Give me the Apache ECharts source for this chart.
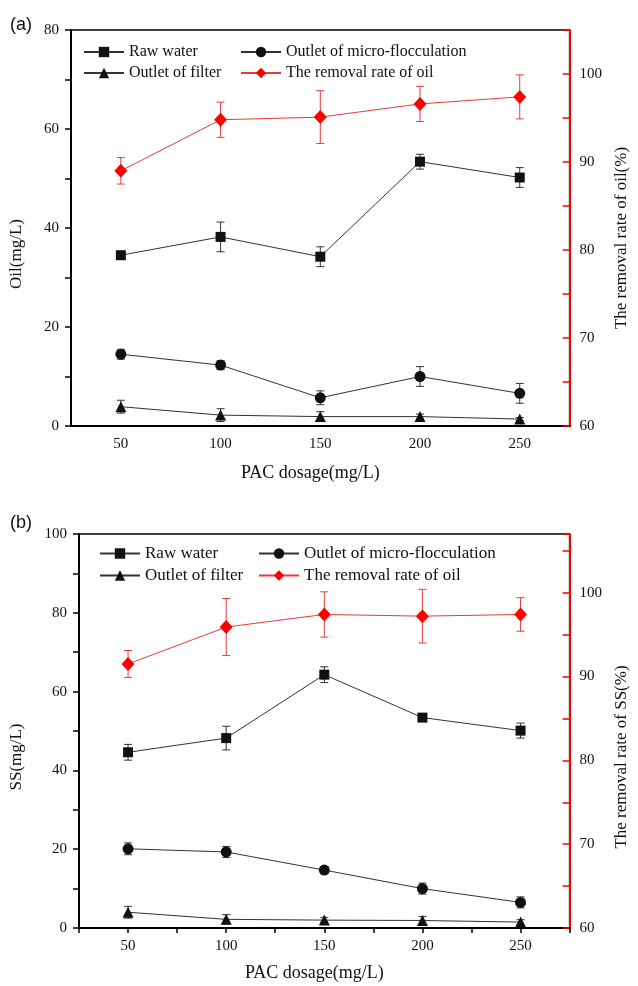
<!DOCTYPE html>
<html>
<head>
<meta charset="utf-8">
<script src="https://cdn.jsdelivr.net/npm/echarts@6/dist/echarts.min.js"></script>
<style>
  html, body { margin: 0; padding: 0; background: #fff; }
  #main { width: 638px; height: 986px; }
</style>
</head>
<body>
<div id="main"></div>
<script>
// PAC dosage (mg/L)
var dosage = [50, 100, 150, 200, 250];
var xTickLabels = [50, 100, 150, 200, 250];

// (a) oil
var oilRaw = [34.5, 38.2, 34.2, 53.4, 50.2];
var oilRawErr = [0.8, 3.0, 2.0, 1.5, 2.0];
var oilMicro = [14.5, 12.3, 5.7, 10.0, 6.6];
var oilMicroErr = [1.0, 0.9, 1.4, 2.0, 2.0];
var oilFilter = [3.9, 2.2, 1.9, 1.9, 1.4];
var oilFilterErr = [1.3, 1.3, 1.0, 0.5, 0.3];
var oilRemoval = [89.0, 94.8, 95.1, 96.6, 97.4];
var oilRemovalErr = [1.5, 2.0, 3.0, 2.0, 2.5];

// (b) SS
var ssRaw = [44.6, 48.2, 64.3, 53.4, 50.1];
var ssRawErr = [2.0, 3.0, 2.0, 1.0, 1.9];
var ssMicro = [20.1, 19.3, 14.7, 10.0, 6.5];
var ssMicroErr = [1.5, 1.4, 0.8, 1.4, 1.4];
var ssFilter = [4.0, 2.2, 2.0, 1.9, 1.5];
var ssFilterErr = [1.5, 1.2, 0.7, 1.0, 0.6];
var ssRemoval = [91.5, 95.9, 97.4, 97.2, 97.4];
var ssRemovalErr = [1.6, 3.4, 2.7, 3.2, 2.0];

var serif = '"Liberation Serif", "DejaVu Serif", serif';
var black = '#111';
var red = '#ff0000';

function pairs(vals) {
  return dosage.map(function (x, i) { return [x, vals[i]]; });
}

function lineSeries(name, vals, xi, yi, symbol, size, isRed) {
  return {
    type: 'line', name: name, xAxisIndex: xi, yAxisIndex: yi,
    data: pairs(vals), symbol: symbol, symbolSize: size, z: 5,
    lineStyle: { color: isRed ? '#e83a3a' : '#333', width: 1 },
    itemStyle: { color: isRed ? red : black, borderWidth: 0 },
    emphasis: { disabled: true }
  };
}

// error bars drawn with the axes' own coordinate system
function errSeries(vals, errs, xi, yi, color) {
  return {
    type: 'custom', xAxisIndex: xi, yAxisIndex: yi, z: 3, silent: true,
    data: dosage.map(function (x, i) { return [x, vals[i] - errs[i], vals[i] + errs[i]]; }),
    encode: { x: 0, y: [1, 2] },
    renderItem: function (params, api) {
      var lo = api.coord([api.value(0), api.value(1)]);
      var hi = api.coord([api.value(0), api.value(2)]);
      var w = 4;
      var st = { stroke: color, lineWidth: 1 };
      return {
        type: 'group',
        children: [
          { type: 'line', shape: { x1: lo[0], y1: lo[1], x2: hi[0], y2: hi[1] }, style: st },
          { type: 'line', shape: { x1: lo[0] - w, y1: lo[1], x2: lo[0] + w, y2: lo[1] }, style: st },
          { type: 'line', shape: { x1: hi[0] - w, y1: hi[1], x2: hi[0] + w, y2: hi[1] }, style: st }
        ]
      };
    }
  };
}

function xAxis(gi, showTicks) {
  return {
    type: 'value', gridIndex: gi, min: 25, max: 275, interval: 25,
    name: 'PAC dosage(mg/L)', nameLocation: 'middle', nameGap: gi === 0 ? 38 : 36,
    nameTextStyle: { fontFamily: serif, fontSize: 18, color: '#111', padding: [0, 20, 0, 0] },
    splitLine: { show: false },
    axisLine: { onZero: false, lineStyle: { color: '#000', width: 2 } },
    axisTick: { show: showTicks, inside: false, length: 5, lineStyle: { color: '#000', width: 1.5 } },
    axisLabel: {
      margin: 11, fontFamily: serif, fontSize: 15, color: '#111',
      formatter: function (v) { return xTickLabels.indexOf(v) >= 0 ? String(v) : ''; }
    }
  };
}

function leftAxis(gi, name, max, gap) {
  return {
    type: 'value', gridIndex: gi, position: 'left', min: 0, max: max, interval: 10,
    name: name, nameLocation: 'middle', nameGap: gap, nameRotate: 90,
    nameTextStyle: { fontFamily: serif, fontSize: 17, color: '#111', padding: [0, 52, 0, 0] },
    splitLine: { show: false },
    axisLine: { show: true, onZero: false, lineStyle: { color: '#000', width: 2 } },
    axisTick: { show: true, inside: false, length: 6, lineStyle: { color: '#000', width: 1.5 } },
    axisLabel: {
      margin: 12, fontFamily: serif, fontSize: 15, color: '#111',
      formatter: function (v) { return v % 20 === 0 ? String(v) : ''; }
    }
  };
}

function rightAxis(gi, name, max, gap, pad) {
  return {
    type: 'value', gridIndex: gi, position: 'right', min: 60, max: max, interval: 5,
    name: name, nameLocation: 'middle', nameGap: gap, nameRotate: 90,
    nameTextStyle: { fontFamily: serif, fontSize: 17, color: '#111', padding: [0, pad, 0, 0] },
    splitLine: { show: false },
    axisLine: { show: true, onZero: false, lineStyle: { color: red, width: 2 } },
    axisTick: { show: true, inside: true, length: 7, lineStyle: { color: red, width: 1.5 } },
    axisLabel: {
      margin: 10, fontFamily: serif, fontSize: 15, color: '#111',
      formatter: function (v) { return v % 10 === 0 ? String(v) : ''; }
    }
  };
}

function legends(left1, left2, top, size) {
  var base = {
    orient: 'vertical', top: top, padding: 0, itemWidth: 40, itemHeight: 13, itemGap: 5,
    textStyle: { fontFamily: serif, fontSize: size, color: '#111' }, selectedMode: false
  };
  return [
    Object.assign({ left: left1, data: ['Raw water', 'Outlet of filter'] }, base),
    Object.assign({ left: left2, data: ['Outlet of micro-flocculation', 'The removal rate of oil'] }, base)
  ];
}

var chart = echarts.init(document.getElementById('main'));

var option = {
  backgroundColor: '#fff',
  animation: false,
  grid: [
    { left: 69, top: 30, width: 516, height: 396, show: true, borderColor: '#000', borderWidth: 1.5, backgroundColor: 'transparent' },
    { left: 76, top: 534, width: 512, height: 394, show: true, borderColor: '#000', borderWidth: 1.5, backgroundColor: 'transparent' }
  ],
  xAxis: [xAxis(0, false), xAxis(1, true)],
  yAxis: [
    leftAxis(0, 'Oil(mg/L)', 80, 46),
    rightAxis(0, 'The removal rate of oil(%)', 105, 37, 20),
    leftAxis(1, 'SS(mg/L)', 100, 54),
    rightAxis(1, 'The removal rate of SS(%)', 107, 36, 52)
  ],
  legend: legends(83, 240, 44, 16).concat(legends(99, 258, 545, 17)),
  graphic: [
    { type: 'text', left: 10, top: 16, style: { text: '(a)', font: '18px "Liberation Sans", Arial, sans-serif', fill: '#111' } },
    { type: 'text', left: 10, top: 514, style: { text: '(b)', font: '18px "Liberation Sans", Arial, sans-serif', fill: '#111' } }
  ],
  series: [
    errSeries(oilRaw, oilRawErr, 0, 0, '#333'),
    errSeries(oilMicro, oilMicroErr, 0, 0, '#333'),
    errSeries(oilFilter, oilFilterErr, 0, 0, '#333'),
    errSeries(oilRemoval, oilRemovalErr, 0, 1, '#e83a3a'),
    lineSeries('Raw water', oilRaw, 0, 0, 'rect', 10, false),
    lineSeries('Outlet of micro-flocculation', oilMicro, 0, 0, 'circle', 11, false),
    lineSeries('Outlet of filter', oilFilter, 0, 0, 'triangle', 11, false),
    lineSeries('The removal rate of oil', oilRemoval, 0, 1, 'diamond', [13, 14], true),

    errSeries(ssRaw, ssRawErr, 1, 2, '#333'),
    errSeries(ssMicro, ssMicroErr, 1, 2, '#333'),
    errSeries(ssFilter, ssFilterErr, 1, 2, '#333'),
    errSeries(ssRemoval, ssRemovalErr, 1, 3, '#e83a3a'),
    lineSeries('Raw water', ssRaw, 1, 2, 'rect', 10, false),
    lineSeries('Outlet of micro-flocculation', ssMicro, 1, 2, 'circle', 11, false),
    lineSeries('Outlet of filter', ssFilter, 1, 2, 'triangle', 11, false),
    lineSeries('The removal rate of oil', ssRemoval, 1, 3, 'diamond', [13, 14], true)
  ]
};

chart.setOption(option);
</script>
</body>
</html>
